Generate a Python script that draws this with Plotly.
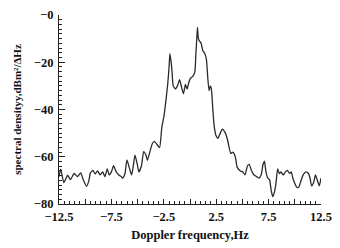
import plotly.graph_objects as go

freq = [-12.5, -12.34, -12.04, -11.67, -11.42, -11.05, -10.74, -10.43, -10.19, -9.88,
        -9.66, -9.5, -9.26, -9.05, -8.82, -8.58, -8.33, -8.12, -7.9, -7.71,
        -7.5, -7.29, -7.04, -6.79, -6.57, -6.42, -6.2, -6.02, -5.8, -5.58,
        -5.43, -5.25, -5.03, -4.88, -4.63, -4.42, -4.2, -4.07, -3.61, -3.4,
        -3.15, -2.9, -2.69, -2.47, -2.29, -2.13, -2.0, -1.92, -1.83, -1.73,
        -1.6, -1.39, -1.2, -0.99, -0.8, -0.62, -0.44, -0.28, -0.12, 0.03,
        0.25, 0.46, 0.56, 0.65, 0.71, 0.8, 0.93, 1.05, 1.23, 1.42,
        1.57, 1.7, 1.82, 1.94, 2.04, 2.16, 2.29, 2.47, 2.66, 2.87,
        3.08, 3.33, 3.58, 3.89, 4.1, 4.32, 4.51, 4.81, 5.03, 5.25,
        5.49, 5.65, 5.86, 6.11, 6.36, 6.57, 6.79, 6.97, 7.1, 7.25,
        7.41, 7.59, 7.75, 7.9, 8.06, 8.21, 8.36, 8.52, 8.68, 8.89,
        9.1, 9.29, 9.51, 9.66, 9.81, 9.97, 10.19, 10.37, 10.58, 10.8,
        11.05, 11.3, 11.45, 11.6, 11.79, 11.97, 12.13, 12.34, 12.5]

density = [-68.5, -65.2, -71, -67.8, -69.7, -67.1, -68.4, -66.8, -69.7, -72.5,
           -70.3, -66.8, -65.8, -67.3, -66, -67.7, -66.4, -68.4, -65.1, -67.7,
           -66.4, -63.8, -66.4, -67.7, -68.4, -69, -67.1, -61.3, -64.5, -67.7,
           -64.5, -59.3, -63.2, -66.4, -63.8, -57.8, -59.3, -61.5, -54.6, -53.5,
           -54.8, -56.1, -47.6, -42.4, -35.9, -29.4, -22.2, -16.4, -19, -22.9,
           -30, -31.3, -30, -27.4, -30.7, -33.3, -29.4, -31.3, -28.7, -26.8,
           -26.1, -24.2, -16.4, -9.9, -5.3, -9.9, -11.2, -11.8, -15.1, -16.4,
           -19, -26.8, -32, -30, -31.3, -38.5, -46.3, -50.9, -52.2, -50.2,
           -48.3, -49.6, -52.8, -58.6, -58, -60, -64.5, -66, -66.4, -67.7,
           -63.8, -63.2, -65.8, -67.7, -68.4, -69, -67.7, -63.2, -61.9, -66.4,
           -69, -69.7, -74.3, -76.9, -74.9, -71, -65.1, -67.1, -66.4, -67.7,
           -66.4, -65.8, -67.1, -66.4, -69, -71, -72.9, -72.9, -70.3, -67.7,
           -66.4, -67.1, -69, -72.3, -71, -67.7, -69.7, -72.3, -69]

x_tick_vals = [-12.5, -10, -7.5, -5, -2.5, 0, 2.5, 5, 7.5, 10, 12.5]
x_tick_text = ["−12.5", "", "−7.5", "", "−2.5", "", "2.5", "", "7.5", "", "12.5"]
y_tick_vals = [0, -20, -40, -60, -80]
y_tick_text = ["−0", "−20", "−40", "−60", "−80"]

font_family = "Liberation Serif, Times New Roman, serif"

fig = go.Figure()
fig.add_trace(go.Scatter(
    x=freq, y=density, mode="lines",
    line=dict(color="#2a2a2a", width=1.3, shape="spline", smoothing=0.5),
    showlegend=False,
))

fig.update_layout(
    width=340, height=248,
    margin=dict(l=59, r=11, t=8, b=35),
    paper_bgcolor="white", plot_bgcolor="white",
    font=dict(family=font_family, size=12, color="#111"),
)
fig.update_xaxes(
    range=[-12.5, 12.5], showgrid=False, zeroline=False,
    showline=True, linecolor="#222", linewidth=1.2,
    tickmode="array", tickvals=x_tick_vals, ticktext=x_tick_text,
    ticks="inside", ticklen=5, tickcolor="#222", tickwidth=1,
    ticklabelstandoff=1,
    minor=dict(dtick=0.5, ticks="inside", ticklen=3, tickcolor="#222", tickwidth=1),
    tickfont=dict(family=font_family, size=12.5, weight="bold"),
    title=dict(text="Doppler frequency,Hz", standoff=7,
               font=dict(family=font_family, size=12.5, weight="bold")),
)
fig.update_yaxes(
    range=[-80, 0], showgrid=False, zeroline=False,
    showline=True, linecolor="#222", linewidth=1.2,
    tickmode="array", tickvals=y_tick_vals, ticktext=y_tick_text,
    ticks="inside", ticklen=6, tickcolor="#222", tickwidth=1,
    ticklabelstandoff=2,
    minor=dict(dtick=2, ticks="inside", ticklen=3, tickcolor="#222", tickwidth=1),
    tickfont=dict(family=font_family, size=12.5, weight="bold"),
    title=dict(text="spectral densityy,dBm²/ΔHz", standoff=9,
               font=dict(family=font_family, size=11, weight="bold")),
)

fig.write_html("out.html")
